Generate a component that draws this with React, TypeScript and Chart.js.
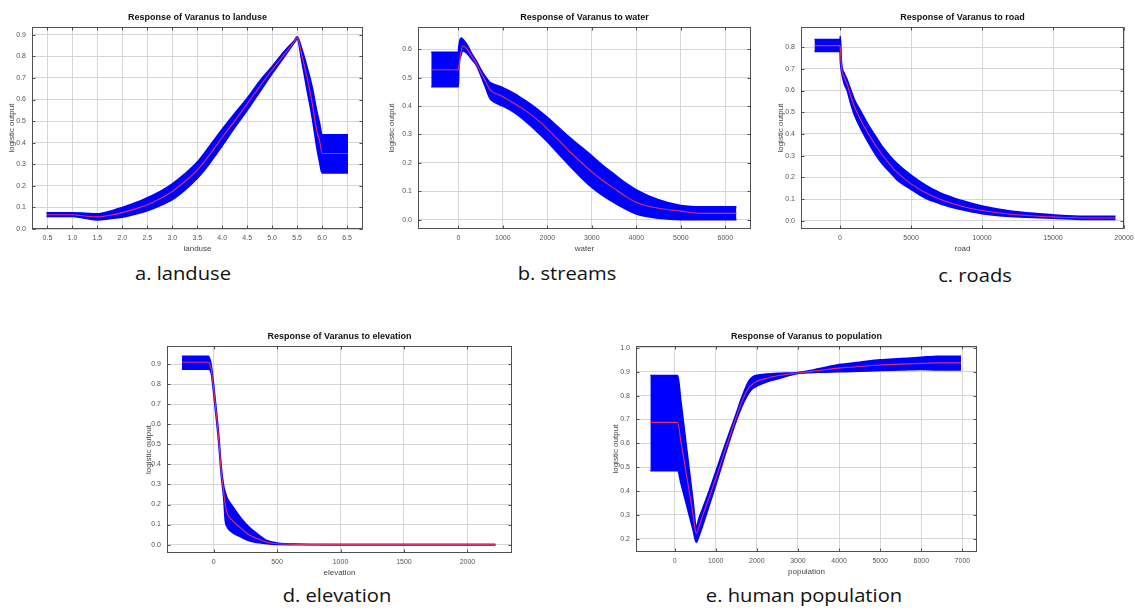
import React, { useEffect, useRef } from "react";
import { Chart, registerables } from "chart.js";
Chart.register(...registerables);

// ---------- a. landuse ----------
const landuseX = [0.48, 1.0, 1.25, 1.5, 1.75, 2.0, 2.25, 2.5, 2.75, 3.0, 3.25, 3.5, 3.75, 4.0, 4.25, 4.5, 4.75, 5.0, 5.25, 5.45, 5.5, 5.6, 5.7, 5.8, 5.9, 5.95, 6.0, 6.52];
const landuseUpper = [0.075, 0.075, 0.073, 0.07, 0.082, 0.1, 0.12, 0.145, 0.173, 0.209, 0.255, 0.31, 0.385, 0.462, 0.535, 0.606, 0.685, 0.753, 0.825, 0.875, 0.89, 0.83, 0.75, 0.66, 0.54, 0.49, 0.436, 0.436];
const landuseLower = [0.058, 0.058, 0.05, 0.042, 0.048, 0.055, 0.068, 0.085, 0.108, 0.136, 0.18, 0.235, 0.305, 0.386, 0.47, 0.55, 0.635, 0.72, 0.8, 0.865, 0.88, 0.77, 0.644, 0.52, 0.37, 0.31, 0.26, 0.26];
const landuseMean = [0.066, 0.066, 0.06, 0.056, 0.064, 0.076, 0.092, 0.112, 0.14, 0.174, 0.22, 0.273, 0.345, 0.424, 0.5, 0.58, 0.66, 0.738, 0.81, 0.87, 0.886, 0.8, 0.7, 0.585, 0.45, 0.41, 0.35, 0.35];
const landuseXTicks = [0.5, 1.0, 1.5, 2.0, 2.5, 3.0, 3.5, 4.0, 4.5, 5.0, 5.5, 6.0, 6.5];
const landuseYTicks = [0.0, 0.1, 0.2, 0.3, 0.4, 0.5, 0.6, 0.7, 0.8, 0.9];

// ---------- b. streams (water) ----------
const waterX = [-610, 0, 10, 60, 100, 200, 300, 400, 500, 600, 700, 750, 1000, 1250, 1500, 1750, 2000, 2250, 2500, 2750, 3000, 3250, 3500, 3750, 4000, 4500, 5000, 5500, 6250];
const waterUpper = [0.59, 0.59, 0.61, 0.64, 0.635, 0.615, 0.585, 0.56, 0.53, 0.505, 0.485, 0.48, 0.465, 0.445, 0.42, 0.392, 0.36, 0.325, 0.29, 0.257, 0.225, 0.19, 0.16, 0.13, 0.105, 0.07, 0.05, 0.045, 0.045];
const waterLower = [0.468, 0.468, 0.53, 0.58, 0.595, 0.585, 0.565, 0.545, 0.51, 0.47, 0.43, 0.42, 0.4, 0.378, 0.348, 0.313, 0.275, 0.232, 0.19, 0.15, 0.114, 0.085, 0.06, 0.038, 0.02, 0.005, 0.0, 0.0, 0.0];
const waterMean = [0.528, 0.528, 0.54, 0.59, 0.612, 0.6, 0.575, 0.552, 0.52, 0.49, 0.46, 0.452, 0.433, 0.41, 0.385, 0.355, 0.32, 0.28, 0.24, 0.203, 0.168, 0.137, 0.11, 0.083, 0.06, 0.04, 0.03, 0.022, 0.022];
const waterXTicks = [0, 1000, 2000, 3000, 4000, 5000, 6000];
const waterYTicks = [0.0, 0.1, 0.2, 0.3, 0.4, 0.5, 0.6];

// ---------- c. roads ----------
const roadX = [-1800, 0, 20, 100, 300, 500, 750, 1000, 1500, 2000, 2500, 3000, 3500, 4000, 5000, 6000, 7000, 8000, 9000, 10000, 12000, 14000, 15000, 17300, 19400];
const roadUpper = [0.835, 0.835, 0.85, 0.73, 0.68, 0.65, 0.605, 0.56, 0.5, 0.44, 0.39, 0.34, 0.3, 0.265, 0.21, 0.165, 0.13, 0.105, 0.085, 0.068, 0.045, 0.032, 0.027, 0.02, 0.02];
const roadLower = [0.78, 0.78, 0.74, 0.69, 0.63, 0.6, 0.54, 0.49, 0.42, 0.36, 0.305, 0.26, 0.225, 0.19, 0.145, 0.105, 0.08, 0.06, 0.045, 0.033, 0.02, 0.014, 0.012, 0.006, 0.006];
const roadMean = [0.807, 0.807, 0.79, 0.71, 0.66, 0.63, 0.575, 0.528, 0.46, 0.4, 0.348, 0.302, 0.26, 0.224, 0.17, 0.13, 0.1, 0.077, 0.06, 0.047, 0.03, 0.021, 0.018, 0.013, 0.013];
const roadXTicks = [0, 5000, 10000, 15000, 20000];
const roadYTicks = [0.0, 0.1, 0.2, 0.3, 0.4, 0.5, 0.6, 0.7, 0.8];

// ---------- d. elevation ----------
const elevX = [-250, -40, -20, 0, 20, 40, 60, 80, 92, 105, 150, 210, 275, 342, 420, 500, 700, 1000, 2220];
const elevUpper = [0.94, 0.94, 0.9, 0.8, 0.68, 0.55, 0.39, 0.29, 0.26, 0.235, 0.19, 0.137, 0.09, 0.055, 0.02, 0.008, 0.002, 0.0, 0.0];
const elevLower = [0.875, 0.875, 0.86, 0.76, 0.64, 0.51, 0.35, 0.23, 0.12, 0.09, 0.06, 0.04, 0.02, 0.01, 0.004, 0.001, 0.0, 0.0, 0.0];
const elevMean = [0.91, 0.91, 0.88, 0.78, 0.66, 0.53, 0.37, 0.26, 0.2, 0.16, 0.12, 0.085, 0.05, 0.03, 0.012, 0.004, 0.001, 0.0, 0.0];
const elevXTicks = [0, 500, 1000, 1500, 2000];
const elevYTicks = [0.0, 0.1, 0.2, 0.3, 0.4, 0.5, 0.6, 0.7, 0.8, 0.9];

// ---------- e. human population ----------
const popX = [-590, 75, 150, 300, 450, 526, 600, 700, 850, 1000, 1250, 1500, 1650, 1800, 1900, 2000, 2250, 2500, 3000, 3500, 4000, 4500, 5000, 5500, 6000, 6400, 6966];
const popUpper = [0.884, 0.884, 0.78, 0.568, 0.356, 0.25, 0.29, 0.335, 0.405, 0.48, 0.605, 0.725, 0.8, 0.86, 0.878, 0.885, 0.89, 0.893, 0.897, 0.912, 0.93, 0.94, 0.95, 0.955, 0.96, 0.965, 0.965];
const popLower = [0.486, 0.486, 0.436, 0.336, 0.237, 0.186, 0.215, 0.265, 0.345, 0.425, 0.565, 0.695, 0.76, 0.81, 0.83, 0.84, 0.858, 0.87, 0.893, 0.898, 0.9, 0.902, 0.905, 0.907, 0.91, 0.908, 0.908];
const popMean = [0.688, 0.688, 0.61, 0.456, 0.3, 0.223, 0.255, 0.306, 0.378, 0.452, 0.582, 0.71, 0.78, 0.832, 0.848, 0.86, 0.873, 0.883, 0.895, 0.905, 0.915, 0.922, 0.928, 0.932, 0.935, 0.937, 0.937];
const popXTicks = [0, 1000, 2000, 3000, 4000, 5000, 6000, 7000];
const popYTicks = [0.2, 0.3, 0.4, 0.5, 0.6, 0.7, 0.8, 0.9, 1.0];

const BLUE = "#0000ff";
const RED = "#e0306a";
const GRID = "#d6d6d6";
const FRAME = "#505050";
const TICKC = "#555555";
const SANS = "'Liberation Sans', Arial, sans-serif";

const YW = 32;
const XH = 26;
const PT = 6;
const PR = 16;

type Box = { L: number; T: number; R: number; B: number };
type PanelCfg = {
  title: string;
  xTitle: string;
  caption: string;
  xs: number[];
  upper: number[];
  lower: number[];
  mean: number[];
  xTicks: number[];
  yTicks: number[];
  xDec: number;
  xMin: number;
  xMax: number;
  yMin: number;
  yMax: number;
  box: Box;
  yTitleOff: number;
  capX: number;
  capY: number;
};

const panels: PanelCfg[] = [
  {
    title: "Response of Varanus to landuse", xTitle: "landuse", caption: "a. landuse",
    xs: landuseX, upper: landuseUpper, lower: landuseLower, mean: landuseMean,
    xTicks: landuseXTicks, yTicks: landuseYTicks, xDec: 1,
    xMin: 0.19, xMax: 6.82, yMin: 0, yMax: 0.935,
    box: { L: 32, T: 23, R: 363, B: 229 }, yTitleOff: 20, capX: 183, capY: 275,
  },
  {
    title: "Response of Varanus to water", xTitle: "water", caption: "b. streams",
    xs: waterX, upper: waterUpper, lower: waterLower, mean: waterMean,
    xTicks: waterXTicks, yTicks: waterYTicks, xDec: 0,
    xMin: -908, xMax: 6578, yMin: -0.033, yMax: 0.678,
    box: { L: 418, T: 23, R: 751, B: 229 }, yTitleOff: 26, capX: 567, capY: 275,
  },
  {
    title: "Response of Varanus to road", xTitle: "road", caption: "c. roads",
    xs: roadX, upper: roadUpper, lower: roadLower, mean: roadMean,
    xTicks: roadXTicks, yTicks: roadYTicks, xDec: 0,
    xMin: -2750, xMax: 20000, yMin: -0.038, yMax: 0.892,
    box: { L: 801, T: 23, R: 1124, B: 229 }, yTitleOff: 20, capX: 975, capY: 277,
  },
  {
    title: "Response of Varanus to elevation", xTitle: "elevation", caption: "d. elevation",
    xs: elevX, upper: elevUpper, lower: elevLower, mean: elevMean,
    xTicks: elevXTicks, yTicks: elevYTicks, xDec: 0,
    xMin: -367, xMax: 2351, yMin: -0.042, yMax: 0.99,
    box: { L: 167, T: 342, R: 512, B: 553 }, yTitleOff: 18, capX: 337, capY: 597,
  },
  {
    title: "Response of Varanus to population", xTitle: "population", caption: "e. human population",
    xs: popX, upper: popUpper, lower: popLower, mean: popMean,
    xTicks: popXTicks, yTicks: popYTicks, xDec: 0,
    xMin: -939, xMax: 7355, yMin: 0.145, yMax: 1.007,
    box: { L: 636, T: 342, R: 977, B: 552 }, yTitleOff: 20, capX: 804, capY: 597,
  },
];

const framePlugin = {
  id: "matlabFrame",
  afterDatasetsDraw(chart: any) {
    const { ctx, chartArea: a, scales } = chart;
    const x = scales.x;
    const y = scales.y;
    const L = Math.round(a.left) + 0.5;
    const R = Math.round(a.right) - 0.5;
    const T = Math.round(a.top) + 0.5;
    const B = Math.round(a.bottom) - 0.5;
    ctx.save();
    ctx.strokeStyle = FRAME;
    ctx.lineWidth = 1;
    ctx.strokeRect(L, T, R - L, B - T);
    ctx.beginPath();
    for (const t of x.ticks) {
      const px = Math.round(x.getPixelForValue(t.value)) + 0.5;
      ctx.moveTo(px, B);
      ctx.lineTo(px, B - 3);
      ctx.moveTo(px, T);
      ctx.lineTo(px, T + 3);
    }
    for (const t of y.ticks) {
      const py = Math.round(y.getPixelForValue(t.value)) + 0.5;
      ctx.moveTo(L, py);
      ctx.lineTo(L + 3, py);
      ctx.moveTo(R, py);
      ctx.lineTo(R - 3, py);
    }
    ctx.stroke();
    ctx.restore();
  },
};

function Panel({ cfg }: { cfg: PanelCfg }) {
  const ref = useRef<HTMLCanvasElement>(null);
  const { L, T, R, B } = cfg.box;
  const w = R - L + YW + PR;
  const h = B - T + PT + XH;
  useEffect(() => {
    const pts = (ys: number[]) => cfg.xs.map((xv, i) => ({ x: xv, y: ys[i] }));
    const common = { pointRadius: 0, cubicInterpolationMode: "monotone" };
    const chart = new Chart(ref.current as HTMLCanvasElement, {
      type: "line",
      data: {
        datasets: [
          { ...common, data: pts(cfg.upper), borderColor: BLUE, backgroundColor: BLUE, borderWidth: 1.6, fill: "+1", order: 2 },
          { ...common, data: pts(cfg.lower), borderColor: BLUE, backgroundColor: BLUE, borderWidth: 1.6, fill: false, order: 2 },
          { ...common, data: pts(cfg.mean), borderColor: RED, borderWidth: 1.1, fill: false, order: 1 },
        ],
      } as any,
      options: {
        animation: false,
        responsive: false,
        events: [],
        layout: { padding: { top: PT, right: PR, left: 0, bottom: 0 } },
        plugins: { legend: { display: false }, tooltip: { enabled: false }, title: { display: false } },
        scales: {
          x: {
            type: "linear",
            min: cfg.xMin,
            max: cfg.xMax,
            afterBuildTicks: (s: any) => { s.ticks = cfg.xTicks.map((v) => ({ value: v })); },
            afterFit: (s: any) => { s.height = XH; },
            grid: { color: GRID, drawTicks: false },
            border: { display: false },
            ticks: {
              padding: 5, color: TICKC, autoSkip: false, maxRotation: 0,
              font: { family: SANS, size: 7 },
              callback: (v: any) => Number(v).toFixed(cfg.xDec),
            },
            title: { display: true, text: cfg.xTitle, color: "#444", font: { family: SANS, size: 8 }, padding: { top: 0, bottom: 1.7 } },
          },
          y: {
            type: "linear",
            min: cfg.yMin,
            max: cfg.yMax,
            afterBuildTicks: (s: any) => { s.ticks = cfg.yTicks.map((v) => ({ value: v })); },
            afterFit: (s: any) => { s.width = YW; },
            grid: { color: GRID, drawTicks: false },
            border: { display: false },
            ticks: {
              padding: 6, color: TICKC, autoSkip: false,
              font: { family: SANS, size: 7 },
              callback: (v: any) => Number(v).toFixed(1),
            },
            title: { display: true, text: "logistic output", color: "#444", font: { family: SANS, size: 8 }, padding: { top: YW - cfg.yTitleOff - 4.8, bottom: 0 } },
          },
        },
      } as any,
      plugins: [framePlugin],
    });
    return () => chart.destroy();
  }, []);
  return (
    <>
      <canvas
        ref={ref}
        width={w}
        height={h}
        style={{ position: "absolute", left: L - YW, top: T - PT, width: w, height: h }}
      />
      <div
        style={{
          position: "absolute", left: L, width: R - L, top: T - 10.5, textAlign: "center",
          font: `bold 9px ${SANS}`, lineHeight: "9px", color: "#111", whiteSpace: "nowrap",
        }}
      >
        {cfg.title}
      </div>
      <div
        style={{
          position: "absolute", left: cfg.capX - 150, width: 300, top: cfg.capY - 11.2, textAlign: "center",
          fontFamily: "'Open Sans', sans-serif", fontSize: 18, lineHeight: "18px", color: "#111",
          transform: "scaleX(1.12)", whiteSpace: "nowrap",
        }}
      >
        {cfg.caption}
      </div>
    </>
  );
}

export default function App() {
  return (
    <div style={{ position: "absolute", left: 0, top: 0, width: 1135, height: 613, background: "#fff", overflow: "hidden" }}>
      {panels.map((p) => (
        <Panel key={p.caption} cfg={p} />
      ))}
    </div>
  );
}
